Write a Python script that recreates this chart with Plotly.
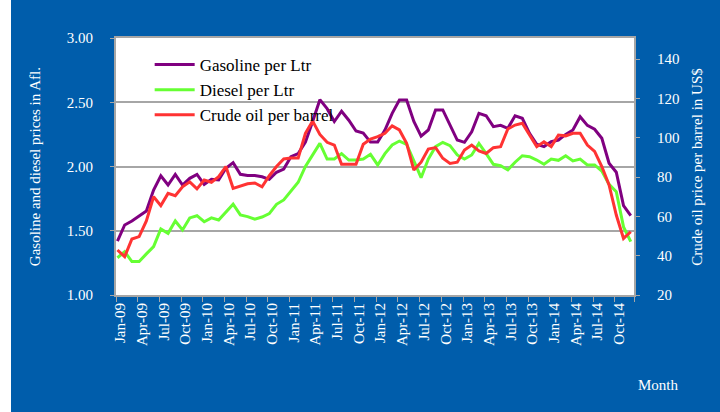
import plotly.graph_objects as go

months = [f"{m}-{y:02d}" for y in range(9, 15) for m in
          ["Jan", "Feb", "Mar", "Apr", "May", "Jun", "Jul", "Aug", "Sep", "Oct", "Nov", "Dec"]]

gasoline = [1.42, 1.545, 1.576, 1.615, 1.654, 1.817, 1.928, 1.856, 1.939, 1.856, 1.908, 1.939,
            1.861, 1.90, 1.895, 1.986, 2.03, 1.939, 1.93, 1.93, 1.92, 1.90, 1.955, 1.98,
            2.076, 2.10, 2.19, 2.35, 2.52, 2.45, 2.35, 2.43, 2.36, 2.276, 2.26, 2.19,
            2.19, 2.284, 2.414, 2.517, 2.517, 2.35, 2.237, 2.284, 2.44, 2.44, 2.323, 2.206,
            2.188, 2.27, 2.414, 2.395, 2.31, 2.32, 2.297, 2.395, 2.375, 2.258, 2.173, 2.155,
            2.193, 2.206, 2.25, 2.284, 2.387, 2.32, 2.29, 2.22, 2.025, 1.955, 1.695, 1.617]

diesel = [1.29, 1.337, 1.26, 1.26, 1.32, 1.376, 1.514, 1.48, 1.576, 1.506, 1.60, 1.617,
          1.57, 1.60, 1.584, 1.644, 1.706, 1.623, 1.61, 1.59, 1.607, 1.633, 1.706, 1.74,
          1.81, 1.877, 2.0, 2.09, 2.18, 2.058, 2.058, 2.10, 2.05, 2.05, 2.058, 2.095,
          2.012, 2.10, 2.167, 2.198, 2.173, 2.043, 1.913, 2.058, 2.154, 2.188, 2.162, 2.09,
          2.058, 2.09, 2.18, 2.10, 2.017, 2.006, 1.973, 2.033, 2.084, 2.076, 2.05, 2.017,
          2.058, 2.048, 2.084, 2.043, 2.058, 2.012, 2.012, 1.965, 1.861, 1.804, 1.53, 1.415]

crude = [42.9, 39.5, 48.5, 49.7, 57.7, 70.0, 65.5, 71.7, 70.5, 75.1, 77.6, 74.0,
         78.5, 77.4, 80.2, 85.4, 74.3, 75.6, 76.6, 77.0, 75.1, 80.7, 85.4, 89.2,
         89.7, 89.7, 102.3, 108.5, 101.7, 97.7, 96.3, 86.5, 86.5, 86.5, 96.7, 99.4,
         100.6, 102.3, 106.1, 104.0, 97.2, 83.6, 87.6, 94.3, 95.0, 89.6, 87.0, 87.6,
         93.8, 96.3, 93.3, 92.0, 95.0, 95.5, 104.5, 106.5, 107.4, 101.4, 95.5, 98.0,
         95.5, 101.4, 101.0, 102.3, 102.3, 96.3, 93.1, 85.4, 76.0, 60.7, 48.8, 52.2]

left_ticks = [1.0, 1.5, 2.0, 2.5, 3.0]
right_ticks = [20, 40, 60, 80, 100, 120, 140]

idx = list(range(len(months)))
label_idx = idx[::3]
label_text = [months[i] for i in label_idx]

BLUE = "#005DAB"
GRID = "#A6A6A6"
FONT = "Liberation Serif"

fig = go.Figure()
fig.add_trace(go.Scatter(x=idx, y=gasoline, name="Gasoline per Ltr", mode="lines",
                         line=dict(color="#800080", width=3)))
fig.add_trace(go.Scatter(x=idx, y=diesel, name="Diesel per Ltr", mode="lines",
                         line=dict(color="#66FF33", width=3)))
fig.add_trace(go.Scatter(x=idx, y=crude, name="Crude oil per barrel", mode="lines",
                         line=dict(color="#FF3333", width=3), yaxis="y2"))

fig.update_layout(
    width=720, height=412,
    margin=dict(l=116, r=86, t=38, b=117),
    paper_bgcolor=BLUE, plot_bgcolor="white",
    font=dict(family=FONT, color="white", size=15),
    showlegend=True,
    legend=dict(x=0.065, y=0.965, xanchor="left", yanchor="top",
                bgcolor="rgba(0,0,0,0)", font=dict(color="black", size=17, family=FONT),
                tracegroupgap=0, itemwidth=40),
    xaxis=dict(range=[-0.2, 71.45], tickmode="array",
               tickvals=[i + 0.4 for i in label_idx], ticktext=label_text,
               tickangle=-90, ticks="", showgrid=False,
               showline=True, linecolor=GRID, linewidth=2, mirror=True,
               minor=dict(tickmode="array", tickvals=[i - 0.2 for i in label_idx] + [71.45],
                          ticks="outside", ticklen=5, tickcolor=GRID, showgrid=False),
               zeroline=False, tickfont=dict(size=15), automargin=False),
    yaxis=dict(range=[1, 3], tickmode="array", tickvals=left_ticks, tickformat=".2f",
               showgrid=True, gridcolor=GRID, gridwidth=2, zeroline=False,
               showline=True, linecolor=GRID, linewidth=2, mirror=True,
               ticks="outside", ticklen=4, tickcolor=GRID, ticklabelstandoff=14,
               tickfont=dict(size=15), automargin=False),
    yaxis2=dict(range=[20, 150.8], overlaying="y", side="right", tickmode="array",
                tickvals=right_ticks, showgrid=False, zeroline=False,
                ticks="outside", ticklen=5, tickcolor=GRID, ticklabelstandoff=14,
                tickfont=dict(size=15), automargin=False),
)

fig.add_annotation(text="Gasoline and diesel prices in Afl.", xref="paper", yref="paper",
                   x=-0.157, y=0.5, textangle=-90, showarrow=False,
                   xanchor="center", yanchor="middle", font=dict(size=15, color="white"))
fig.add_annotation(text="Crude oil price per barrel in US$", xref="paper", yref="paper",
                   x=1.12, y=0.5, textangle=-90, showarrow=False,
                   xanchor="center", yanchor="middle", font=dict(size=15, color="white"))
fig.add_annotation(text="Month", xref="paper", yref="paper", x=1.004, y=-0.35,
                   showarrow=False, xanchor="left", yanchor="middle",
                   font=dict(size=15, color="white"))

fig.add_shape(type="rect", xref="paper", yref="paper", x0=-0.3, x1=-0.2027,
              y0=-0.5, y1=1.2, fillcolor="white", line=dict(width=0), layer="below")

fig.write_html("out.html", config={"displayModeBar": False},
               post_script="document.body.style.margin='0px';document.body.style.overflow='hidden';")
